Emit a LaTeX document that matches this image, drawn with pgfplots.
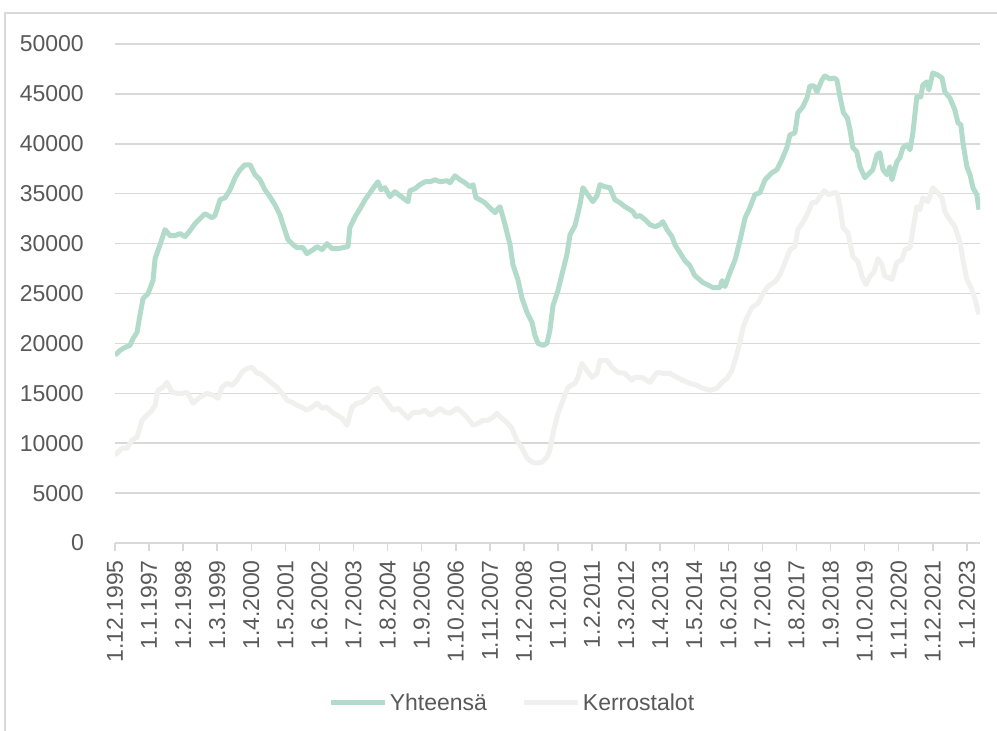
\documentclass[border=0pt]{standalone}
\usepackage{fontspec}
\setmainfont{Liberation Sans}
\usepackage{pgfplots}
\pgfplotsset{compat=1.18}
\definecolor{greenline}{HTML}{B3DBCB}
\definecolor{grayline}{HTML}{F0F0EF}
\definecolor{gridgray}{HTML}{D9D9D9}
\definecolor{textgray}{HTML}{595959}
\begin{document}
\begin{tikzpicture}
\path[use as bounding box] (0pt,0pt) rectangle (997pt,-731pt);
\draw[gridgray, line width=1.5pt] (5pt,-731pt) -- (5pt,-13pt) -- (997pt,-13pt);
\begin{axis}[
    at={(115pt,-543pt)}, anchor=south west,
    width=865pt, height=499pt, scale only axis,
    xmin=0, xmax=330, ymin=0, ymax=50000,
    axis line style={draw=none},
    ymajorgrids, grid style={gridgray, line width=1.5pt},
    ytick={0,5000,...,50000},
    scaled y ticks=false,
    ytick style={draw=none},
    xtick={0,13,...,325},
    xticklabels={1.12.1995,1.1.1997,1.2.1998,1.3.1999,1.4.2000,1.5.2001,1.6.2002,1.7.2003,1.8.2004,1.9.2005,1.10.2006,1.11.2007,1.12.2008,1.1.2010,1.2.2011,1.3.2012,1.4.2013,1.5.2014,1.6.2015,1.7.2016,1.8.2017,1.9.2018,1.10.2019,1.11.2020,1.12.2021,1.1.2023},
    xtick pos=bottom, ytick pos=left,
    xtick style={draw=gridgray, line width=1.5pt},
    major tick length=8pt, tick align=outside,
    tick label style={font=\fontsize{23}{27}\selectfont, text=textgray},
    yticklabel style={anchor=east, inner sep=0pt, xshift=-23pt},
    xticklabel style={rotate=90, anchor=east, inner sep=0pt, xshift=-9pt},
    /pgf/number format/assume math mode=true,
    yticklabel={\pgfmathprintnumber[fixed,precision=0,1000 sep={}]{\tick}},
    legend style={at={(0.4595,-0.3206)}, anchor=center, draw=none,
        font=\fontsize{23}{27}\selectfont, text=textgray,
        legend columns=2,
        /tikz/every even column/.append style={column sep=33pt}},
    legend image code/.code={\draw[#1, line width=5pt] (0pt,0pt) -- (54pt,0pt);},
    every axis plot/.append style={line width=5pt, line join=round, mark=none},
]
\addplot[greenline] coordinates {
(0,18800) (1.9,19300) (3.8,19600) (5.7,19800) (6.9,20500) (8.4,21100) (9.5,22800)
(10.7,24500) (12.6,25000) (14.5,26300) (15.3,28500) (17.2,29900) (19.1,31400)
(21.0,30800) (22.9,30800) (24.8,31000) (26.7,30700) (28.6,31300) (30.5,32000)
(32.4,32500) (34.3,33000) (37.0,32600) (38.1,32800) (40.1,34400) (42.0,34600)
(43.9,35400) (45.8,36600) (47.7,37400) (49.6,37900) (51.5,37900) (53.4,36900)
(55.3,36400) (57.2,35400) (59.1,34700) (61.0,33900) (62.9,32900) (64.1,31900)
(66.0,30400) (67.9,29900) (69.4,29600) (71.7,29600) (73.2,29000) (75.1,29300)
(77.1,29700) (79.0,29400) (80.9,30000) (82.8,29500) (85.1,29500) (87.0,29600)
(88.9,29700) (89.6,31600) (91.6,32700) (93.5,33500) (95.4,34400) (97.3,35100)
(99.2,35800) (100.3,36200) (101.5,35400) (103.0,35600) (104.9,34700) (106.8,35200)
(108.7,34800) (111.8,34200) (112.5,35300) (114.4,35500) (116.3,35900) (118.3,36200)
(120.2,36200) (122.1,36400) (124.0,36200) (126.6,36300) (127.8,36100) (129.7,36800)
(131.6,36400) (133.5,36100) (135.4,35700) (136.6,35900) (137.7,34600) (139.2,34400)
(141.1,34100) (143.0,33600) (145.0,33100) (146.1,33500) (146.9,33700) (148.8,31900)
(150.7,29900) (151.8,27900) (153.7,26400) (155.3,24500) (157.2,23100) (159.1,22100)
(160.2,20800) (161.4,20000) (163.3,19800) (164.8,20000) (165.9,21300) (167.1,23800)
(169.0,25300) (170.5,26900) (172.4,28900) (173.6,30900) (175.5,31800) (177.4,33900)
(178.5,35600) (180.4,34900) (182.3,34200) (183.9,34800) (185.0,35900) (186.9,35700)
(188.8,35600) (190.7,34400) (192.6,34100) (194.5,33700) (196.5,33400) (197.6,33200)
(198.7,32700) (200.3,32800) (202.2,32400) (204.1,31900) (206.0,31700) (207.9,31900)
(209.0,32200) (210.6,31400) (212.5,30700) (213.6,29900) (215.5,29100) (217.4,28300)
(219.3,27800) (221.2,26800) (224.3,26100) (228.1,25600) (230.8,25600) (231.6,26300)
(232.7,25700) (234.6,27100) (236.6,28400) (238.5,30400) (240.4,32600) (242.2,33600)
(244.1,34900) (246.0,35100) (248.0,36400) (250.6,37100) (252.5,37400) (254.4,38400)
(256.3,39600) (257.5,40900) (259.4,41100) (260.5,43100) (262.4,43700) (264.0,44600)
(265.1,45800) (266.7,45800) (267.8,45200) (269.7,46400) (270.8,46800) (272.7,46500)
(274.3,46600) (275.4,46400) (276.6,44700) (277.9,43100) (279.4,42600) (280.4,41400)
(281.5,39600) (283.0,39200) (284.2,37700) (286.1,36600) (288.0,37100) (289.1,37400)
(290.7,38900) (291.8,39100) (293.0,37400) (294.5,36900) (295.6,37700) (296.4,36400)
(298.3,38200) (299.4,38600) (300.6,39600) (302.1,39900) (303.3,39400) (304.4,41100)
(305.9,44700) (307.4,44700) (308.2,45900) (309.7,46200) (310.5,45400) (312.0,47100)
(313.9,46900) (315.5,46600) (316.6,45200) (318.5,44600) (320.4,43400) (321.6,42100)
(322.7,41900) (323.5,40100) (325.0,37700) (326.2,36900) (327.3,35600) (328.8,34900)
(329.6,33400)
};
\addlegendentry{Yhteensä}
\addplot[grayline] coordinates {
(0,8800) (2.7,9500) (4.6,9500) (6.5,10300) (8.4,10600) (10.3,12300) (12.2,12800)
(14.1,13300) (15.3,13800) (16.4,15300) (18.3,15600) (19.8,16100) (21.7,15100)
(23.7,15000) (25.6,15000) (27.5,15100) (29.8,14000) (32.4,14600) (35.1,15000)
(37.4,14800) (39.3,14500) (40.8,15600) (42.7,16000) (44.6,15800) (46.5,16300)
(48.4,17100) (50.4,17500) (52.3,17600) (54.2,17000) (55.3,17000) (57.2,16600)
(59.9,16000) (61.8,15600) (63.7,15000) (65.6,14300) (67.5,14100) (69.4,13800)
(71.3,13600) (73.2,13300) (75.1,13600) (77.1,14000) (79.0,13500) (80.9,13600)
(82.8,13100) (84.7,12800) (86.6,12500) (88.5,11800) (90.4,13600) (92.3,14000)
(94.2,14100) (96.5,14600) (98.4,15300) (100.3,15500) (102.2,14600) (104.1,14000)
(106.0,13300) (108.0,13500) (109.9,13000) (111.8,12500) (113.7,13100) (116.3,13100)
(118.3,13300) (120.2,12800) (122.1,13100) (124.0,13500) (125.9,13100) (127.8,13000)
(130.5,13500) (132.4,13100) (134.3,12600) (136.6,11800) (138.5,12000) (140.4,12300)
(142.3,12300) (144.2,12600) (145.7,13000) (147.6,12500) (149.5,12100) (151.4,11500)
(153.3,10300) (155.3,9500) (157.2,8500) (159.1,8100) (161.0,8000) (162.9,8100)
(164.8,8600) (165.9,9300) (167.1,11000) (169.0,13000) (170.9,14300) (172.8,15600)
(175.5,16000) (176.6,16600) (178.1,18000) (180.0,17300) (182.0,16600) (183.9,17000)
(185.0,18300) (187.7,18300) (189.6,17600) (191.9,17100) (194.5,17000) (197.2,16300)
(198.4,16600) (201.0,16600) (204.1,16100) (206.8,17100) (209.0,17000) (211.7,17000)
(214.4,16600) (216.7,16300) (219.3,16000) (222.0,15800) (224.3,15500) (227.0,15300)
(229.6,15500) (231.6,16100) (233.5,16500) (235.4,17300) (237.3,19000) (238.4,20100)
(239.6,21600) (241.1,22600) (243.0,23600) (245.3,24000) (247.2,25000) (249.1,25700)
(251.8,26200) (253.7,26900) (255.6,28100) (257.5,29400) (259.4,29700) (260.5,31400)
(262.4,32100) (264.4,33100) (265.9,34100) (267.4,34100) (268.9,34700) (270.5,35300)
(272.4,34900) (274.3,35100) (275.4,35100) (276.6,33700) (277.7,31600) (279.6,31100)
(281.5,28700) (283.4,28200) (285.0,26700) (286.5,25900) (288.0,26700) (289.5,27100)
(291.1,28500) (292.6,27900) (293.7,26700) (295.3,26600) (296.4,26400) (298.3,28100)
(300.2,28400) (301.4,29400) (303.3,29600) (304.4,31400) (305.9,33700) (307.1,33400)
(308.2,34600) (310.1,34200) (312.0,35600) (313.9,35100) (315.5,34600) (316.6,33200)
(318.5,32400) (320.4,31700) (322.3,30200) (323.5,28400) (325.0,26400) (326.9,25400)
(328.1,24400) (329.6,22900)
};
\addlegendentry{Kerrostalot}
\end{axis}
\end{tikzpicture}
\end{document}
